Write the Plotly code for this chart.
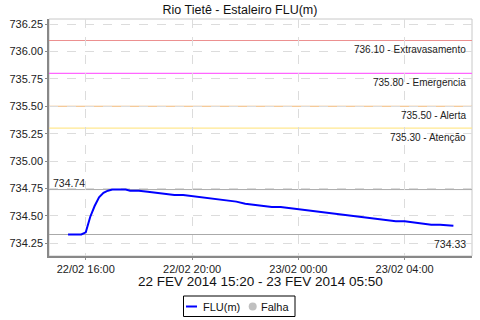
import plotly.graph_objects as go

# ---- data ----
times = [
    "2014-02-22 15:20", "2014-02-22 15:30", "2014-02-22 15:40", "2014-02-22 15:50",
    "2014-02-22 16:00", "2014-02-22 16:10", "2014-02-22 16:20", "2014-02-22 16:30",
    "2014-02-22 16:40", "2014-02-22 16:50", "2014-02-22 17:00", "2014-02-22 17:10",
    "2014-02-22 17:20", "2014-02-22 17:30", "2014-02-22 17:40", "2014-02-22 18:00",
    "2014-02-22 18:20", "2014-02-22 18:40", "2014-02-22 19:00", "2014-02-22 19:20",
    "2014-02-22 19:40", "2014-02-22 20:00", "2014-02-22 20:20", "2014-02-22 20:40",
    "2014-02-22 21:00", "2014-02-22 21:20", "2014-02-22 21:40", "2014-02-22 22:00",
    "2014-02-22 22:20", "2014-02-22 22:40", "2014-02-22 23:00", "2014-02-22 23:20",
    "2014-02-22 23:40", "2014-02-23 00:00", "2014-02-23 00:20", "2014-02-23 00:40",
    "2014-02-23 01:00", "2014-02-23 01:20", "2014-02-23 01:40", "2014-02-23 02:00",
    "2014-02-23 02:20", "2014-02-23 02:40", "2014-02-23 03:00", "2014-02-23 03:20",
    "2014-02-23 03:40", "2014-02-23 04:00", "2014-02-23 04:20", "2014-02-23 04:40",
    "2014-02-23 05:00", "2014-02-23 05:20", "2014-02-23 05:50",
]
flu = [
    734.33, 734.33, 734.33, 734.33,
    734.35, 734.49, 734.59, 734.67,
    734.71, 734.73, 734.74, 734.74,
    734.74, 734.74, 734.73, 734.73,
    734.72, 734.71, 734.70, 734.69,
    734.69, 734.68, 734.67, 734.66,
    734.65, 734.64, 734.63, 734.61,
    734.60, 734.59, 734.58, 734.58,
    734.57, 734.56, 734.55, 734.54,
    734.53, 734.52, 734.51, 734.50,
    734.49, 734.48, 734.47, 734.46,
    734.45, 734.45, 734.44, 734.43,
    734.42, 734.42, 734.41,
]
level_values = [736.10, 735.80, 735.50, 735.30]
level_names = ["Extravasamento", "Emergencia", "Alerta", "Atenção"]
level_colors = ["#ec9090", "#ff66ff", "#f0b878", "#ffe890"]
max_value = 734.74
min_value = 734.33
x_tick_vals = ["2014-02-22 16:00", "2014-02-22 20:00", "2014-02-23 00:00", "2014-02-23 04:00"]
x_tick_text = ["22/02 16:00", "22/02 20:00", "23/02 00:00", "23/02 04:00"]
y_tick_vals = [734.25, 734.50, 734.75, 735.00, 735.25, 735.50, 735.75, 736.00, 736.25]
title_text = "Rio Tietê - Estaleiro FLU(m)"
x_title = "22 FEV 2014 15:20 - 23 FEV 2014 05:50"
legend_names = ["FLU(m)", "Falha"]

FONT = "Liberation Sans, Arial, sans-serif"
W, H = 480, 320
L, R, T, B = 49, 8, 19, 64
PW, PH = W - L - R, H - T - B


def px(x):
    return (x - L) / PW


def py(y):
    return (H - B - y) / PH


fig = go.Figure()
fig.add_trace(go.Scatter(x=times, y=flu, mode="lines", line=dict(color="#0000ff", width=2),
                         name=legend_names[0], showlegend=False, hoverinfo="x+y"))

shapes = []
annotations = []

# plot border (light)
shapes.append(dict(type="rect", xref="paper", yref="paper", x0=0, x1=1, y0=0, y1=1,
                   line=dict(color="#c8c8c8", width=1), layer="below"))

for v, n, c in zip(level_values, level_names, level_colors):
    shapes.append(dict(type="line", xref="paper", yref="y", x0=0, x1=1, y0=v, y1=v,
                       line=dict(color=c, width=1.2), layer="below"))
    annotations.append(dict(xref="paper", yref="y", x=1, y=v, xanchor="right", yanchor="middle",
                            xshift=-4, yshift=-9, showarrow=False,
                            text=f"{v:.2f} - {n}", font=dict(family=FONT, size=10, color="#222")))

for v in (max_value, min_value):
    shapes.append(dict(type="line", xref="paper", yref="y", x0=0, x1=1, y0=v, y1=v,
                       line=dict(color="#aaaaaa", width=1), layer="below"))
annotations.append(dict(xref="paper", yref="y", x=0, y=max_value, xanchor="left", yanchor="middle",
                        xshift=2, yshift=7, showarrow=False, text=f"{max_value:.2f}",
                        font=dict(family=FONT, size=10.5, color="#222")))
annotations.append(dict(xref="paper", yref="y", x=1, y=min_value, xanchor="right", yanchor="middle",
                        xshift=-4, yshift=-9, showarrow=False, text=f"{min_value:.2f}",
                        font=dict(family=FONT, size=10.5, color="#222")))

# x axis title
annotations.append(dict(xref="paper", yref="paper", x=0.5, y=py(281), xanchor="center", yanchor="middle",
                        showarrow=False, text=x_title, font=dict(family=FONT, size=13.5, color="#111")))

# manual legend
shapes.append(dict(type="rect", xref="paper", yref="paper", x0=px(183.5), x1=px(295),
                   y0=py(316.5), y1=py(296), line=dict(color="#000", width=1), fillcolor="white"))
shapes.append(dict(type="line", xref="paper", yref="paper", x0=px(186), x1=px(197),
                   y0=py(306.5), y1=py(306.5), line=dict(color="#0000ff", width=2)))
shapes.append(dict(type="circle", xref="paper", yref="paper", xsizemode="pixel", ysizemode="pixel",
                   xanchor=px(252.7), yanchor=py(306.5), x0=-4, x1=4, y0=-4, y1=4,
                   line=dict(color="#c0c0c0", width=0), fillcolor="#c0c0c0"))
annotations.append(dict(xref="paper", yref="paper", x=px(201), y=py(306.5), xanchor="left", yanchor="middle",
                        showarrow=False, text=legend_names[0], font=dict(family=FONT, size=11, color="#111")))
annotations.append(dict(xref="paper", yref="paper", x=px(259), y=py(306.5), xanchor="left", yanchor="middle",
                        showarrow=False, text=legend_names[1], font=dict(family=FONT, size=11, color="#111")))

fig.update_layout(
    width=W, height=H, margin=dict(l=L, r=R, t=T, b=B),
    paper_bgcolor="white", plot_bgcolor="white",
    title=dict(text=title_text, x=0.5, xref="container", xanchor="center",
               y=1 - 9.5 / H, yref="container", yanchor="middle",
               font=dict(family=FONT, size=12.5, color="#111")),
    showlegend=False,
    shapes=shapes, annotations=annotations,
    xaxis=dict(type="date", range=["2014-02-22 14:37", "2014-02-23 06:32"],
               tickvals=x_tick_vals, ticktext=x_tick_text, tickangle=0,
               showgrid=True, gridcolor="#dcdcdc", griddash="dash", gridwidth=1,
               showline=True, linecolor="#888", linewidth=1.5,
               ticks="outside", ticklen=2, tickcolor="#888",
               tickfont=dict(family=FONT, size=11, color="#222"), zeroline=False),
    yaxis=dict(range=[734.134, 736.296], tickvals=y_tick_vals, tickformat=".2f",
               showgrid=True, gridcolor="#dcdcdc", griddash="dash", gridwidth=1,
               showline=True, linecolor="#888", linewidth=1.5,
               ticks="outside", ticklen=2, tickcolor="#888",
               tickfont=dict(family=FONT, size=11, color="#222"), zeroline=False),
)

fig.write_html("out.html")
